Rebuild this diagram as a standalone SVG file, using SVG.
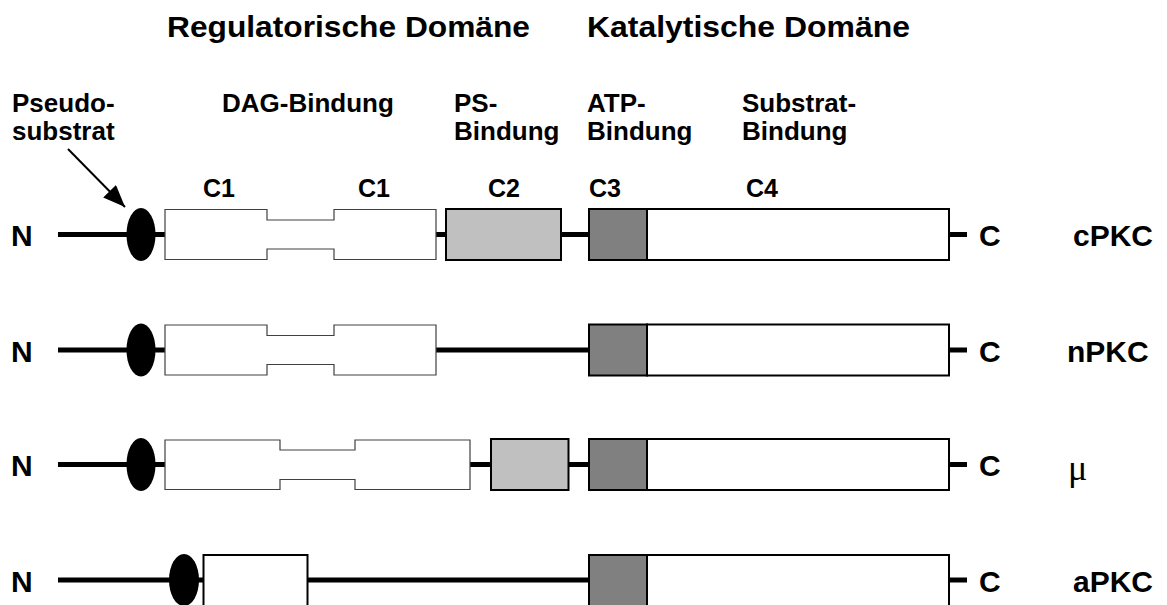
<svg xmlns="http://www.w3.org/2000/svg" width="1167" height="605" viewBox="0 0 1167 605">
<style>
text{font-family:"Liberation Sans",Arial,sans-serif;font-weight:bold;fill:#000}
.t{font-size:30px}
.l{font-size:26px}
.c{font-size:25px}
.e{font-size:30px}
.bb{stroke:#000;stroke-width:5;fill:none}
.ar{stroke:#000;stroke-width:2;fill:none}
.c1{fill:#fff;stroke:#404040;stroke-width:1.2}
.c2{fill:#c0c0c0;stroke:#000;stroke-width:2}
.c3{fill:#808080;stroke:#000;stroke-width:2}
.c4{fill:#fff;stroke:#000;stroke-width:2}
.ps{fill:#000}
.mu{font-family:"Liberation Serif","Times New Roman",serif;font-weight:normal;font-size:36px}
</style>
<defs>
<marker id="ah" markerUnits="userSpaceOnUse" markerWidth="24" markerHeight="20" refX="22" refY="9" orient="auto"><path d="M0,0 L22,9 L0,18 z" fill="#000"/></marker>
</defs>
<rect width="1167" height="605" fill="#fff"/>
<g id="headers">
<text class="t" x="167" y="37" textLength="363" lengthAdjust="spacingAndGlyphs">Regulatorische Domäne</text>
<text class="t" x="587" y="37" textLength="323" lengthAdjust="spacingAndGlyphs">Katalytische Domäne</text>
</g>
<g id="labels">
<text class="l" x="12" y="112">Pseudo-</text>
<text class="l" x="12" y="140">substrat</text>
<text class="l" x="222" y="112">DAG-Bindung</text>
<text class="l" x="454" y="112">PS-</text>
<text class="l" x="454" y="140">Bindung</text>
<text class="l" x="587" y="112">ATP-</text>
<text class="l" x="587" y="140">Bindung</text>
<text class="l" x="742" y="112">Substrat-</text>
<text class="l" x="742" y="140">Bindung</text>
<text class="c" x="203" y="197">C1</text>
<text class="c" x="358" y="197">C1</text>
<text class="c" x="488" y="197">C2</text>
<text class="c" x="589" y="197">C3</text>
<text class="c" x="746" y="197">C4</text>
</g>
<g id="connectors">
<line class="bb" x1="58" y1="234.5" x2="590" y2="234.5"/>
<line class="bb" x1="948" y1="234.5" x2="967" y2="234.5"/>
<line class="bb" x1="58" y1="350" x2="590" y2="350"/>
<line class="bb" x1="948" y1="350" x2="967" y2="350"/>
<line class="bb" x1="58" y1="464.5" x2="590" y2="464.5"/>
<line class="bb" x1="948" y1="464.5" x2="967" y2="464.5"/>
<line class="bb" x1="58" y1="580" x2="590" y2="580"/>
<line class="bb" x1="948" y1="580" x2="967" y2="580"/>
<line class="ar" x1="68" y1="149" x2="125" y2="207" marker-end="url(#ah)"/>
</g>
<g id="cPKC">
<text class="e" x="11" y="246">N</text>
<ellipse class="ps" cx="141" cy="234.5" rx="14.5" ry="26.5"/>
<path class="c1" d="M165,209.5 H267 V220 H334 V209.5 H436 V259.5 H334 V249 H267 V259.5 H165 Z"/>
<rect class="c2" x="446" y="209" width="115" height="51"/>
<rect class="c4" x="647" y="209" width="302" height="51"/>
<rect class="c3" x="589" y="209" width="58" height="51"/>
<text class="e" x="979" y="246">C</text>
<text class="e" x="1073" y="246">cPKC</text>
</g>
<g id="nPKC">
<text class="e" x="11" y="361.5">N</text>
<ellipse class="ps" cx="141" cy="350" rx="14.5" ry="26.5"/>
<path class="c1" d="M165,325 H267 V335.5 H334 V325 H436 V375 H334 V364.5 H267 V375 H165 Z"/>
<rect class="c4" x="647" y="324.5" width="302" height="51"/>
<rect class="c3" x="589" y="324.5" width="58" height="51"/>
<text class="e" x="979" y="361.5">C</text>
<text class="e" x="1067" y="361.5">nPKC</text>
</g>
<g id="mu">
<text class="e" x="11" y="476">N</text>
<ellipse class="ps" cx="141" cy="464.5" rx="14.5" ry="26.5"/>
<path class="c1" d="M165,440 H280 V450 H355 V440 H470 V489.5 H355 V479.5 H280 V489.5 H165 Z"/>
<rect class="c2" x="491" y="439" width="77.5" height="51"/>
<rect class="c4" x="647" y="439" width="302" height="51"/>
<rect class="c3" x="589" y="439" width="58" height="51"/>
<text class="e" x="979" y="476">C</text>
<text class="mu" x="1068" y="480">μ</text>
</g>
<g id="aPKC">
<text class="e" x="11" y="591.5">N</text>
<ellipse class="ps" cx="184" cy="580" rx="15" ry="26"/>
<rect class="c4" x="203.5" y="555" width="104" height="60"/>
<rect class="c4" x="647" y="555" width="302" height="60"/>
<rect class="c3" x="589" y="555" width="58" height="60"/>
<text class="e" x="979" y="591.5">C</text>
<text class="e" x="1073" y="591.5">aPKC</text>
</g>
</svg>
